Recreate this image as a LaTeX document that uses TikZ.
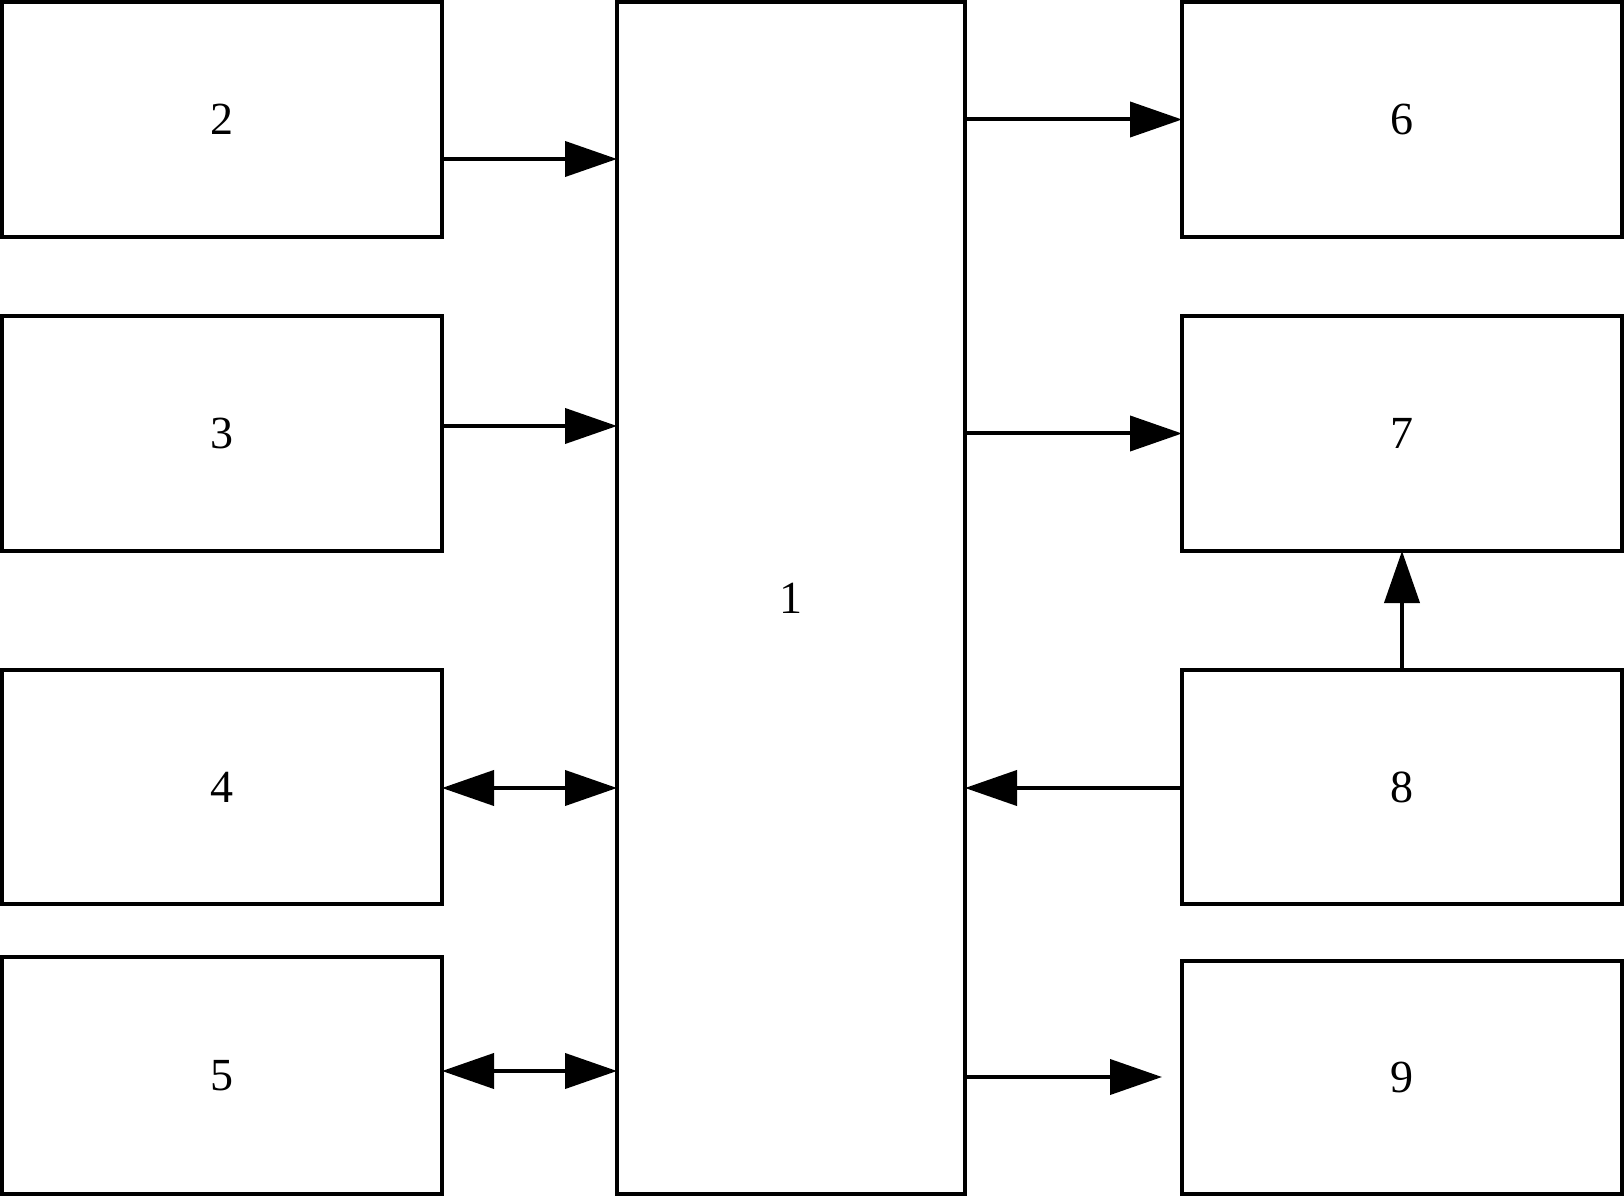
\documentclass[tikz,border=0pt]{standalone}
\usepackage{fontspec}
\setmainfont{Liberation Serif}
\usetikzlibrary{arrows.meta}

\begin{document}
\begin{tikzpicture}[x=0.5pt,y=0.5pt,yscale=-1,xscale=1,
    blk/.style={draw,line width=2pt,inner sep=0pt,outer sep=0pt,minimum width=220pt,font=\fontsize{23}{28}\selectfont},
    arr/.style={line width=2pt,-{Triangle[length=26pt,width=17.5pt]}},
    darr/.style={line width=2pt,{Triangle[length=26pt,width=17.5pt]}-{Triangle[length=26pt,width=17.5pt]}}]
    \useasboundingbox (0,0) rectangle (1624,1198);

    % Left blocks
    \node[blk,minimum height=117.5pt] (b2) at (222,119.5) {2};
    \node[blk,minimum height=117.5pt] (b3) at (222,433.5) {3};
    \node[blk,minimum height=117pt] (b4) at (222,787) {4};
    \node[blk,minimum height=118.5pt] (b5) at (222,1075.5) {5};
    % Central block
    \node[blk,minimum width=174pt,minimum height=596pt] (b1) at (791,598) {1};
    % Right blocks
    \node[blk,minimum height=117.5pt] (b6) at (1402,119.5) {6};
    \node[blk,minimum height=117.5pt] (b7) at (1402,433.5) {7};
    \node[blk,minimum height=117pt] (b8) at (1402,787) {8};
    \node[blk,minimum height=116.5pt] (b9) at (1402,1077.5) {9};
    \coordinate (e9) at (1162,1077);

    % Connectors into block 1
    \draw[arr] (b2.east |- 0,159) -- (b1.west |- 0,159);
    \draw[arr] (b3.east |- 0,426) -- (b1.west |- 0,426);
    \draw[darr] (b4.east |- 0,788) -- (b1.west |- 0,788);
    \draw[darr] (b5.east |- 0,1071) -- (b1.west |- 0,1071);
    % Connectors out of block 1
    \draw[arr] (b1.east |- b6.west) -- (b6.west);
    \draw[arr] (b1.east |- b7.west) -- (b7.west);
    \draw[arr] (b8.west |- 0,788) -- (b1.east |- 0,788);
    \draw[arr] (b1.east |- e9) -- (e9);
    \draw[arr] (b8.north) -- (b7.south);

\end{tikzpicture}
\end{document}
